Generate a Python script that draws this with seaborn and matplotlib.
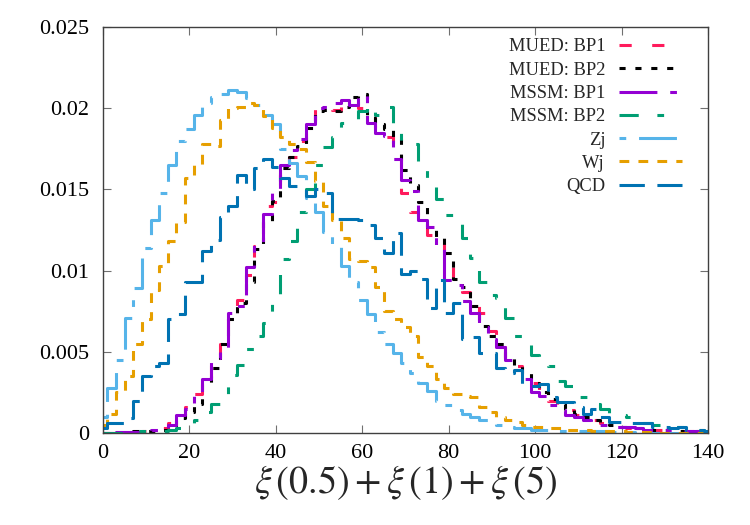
import numpy as np
import pandas as pd
import seaborn as sns
import matplotlib
matplotlib.use("Agg")
import matplotlib.pyplot as plt

# bin positions (histeps, width 2)
xi = list(range(0, 141, 2))

mued_bp1 = [0, 0, 0, 0.00005, 0.00005, 0.0001, 0.0002, 0.0003, 0.0006, 0.0010,
            0.0016, 0.0024, 0.0029, 0.0042, 0.0055, 0.0070, 0.0082, 0.0097, 0.0115, 0.0140,
            0.0142, 0.0160, 0.0170, 0.0180, 0.0187, 0.0200, 0.0200, 0.0199, 0.0202, 0.0204,
            0.0200, 0.0195, 0.0188, 0.0182, 0.0175, 0.0148, 0.0136, 0.0130, 0.0122, 0.0118,
            0.0110, 0.0094, 0.0087, 0.0080, 0.0074, 0.0063, 0.0053, 0.0047, 0.0041, 0.0036,
            0.0031, 0.0022, 0.0020, 0.0015, 0.0014, 0.0011, 0.0008, 0.0008, 0.0006, 0.0005,
            0.0004, 0.0003, 0.0003, 0.0002, 0.0002, 0.0002, 0.0001, 0.0001, 0.0001, 0.0001,
            0.0001]

mued_bp2 = [0, 0, 0, 0.00005, 0.0001, 0.0001, 0.0001, 0.0002, 0.0004, 0.0009,
            0.0013, 0.0018, 0.0030, 0.0040, 0.0055, 0.0070, 0.0080, 0.0093, 0.0113, 0.0130,
            0.0143, 0.0163, 0.0170, 0.0177, 0.0188, 0.0198, 0.0199, 0.0198, 0.0201, 0.0207,
            0.0209, 0.0194, 0.0190, 0.0187, 0.0181, 0.0162, 0.0153, 0.0142, 0.0127, 0.0120,
            0.0111, 0.0095, 0.0090, 0.0078, 0.0066, 0.0060, 0.0055, 0.0046, 0.0041, 0.0037,
            0.0031, 0.0025, 0.0021, 0.0018, 0.0015, 0.0012, 0.0010, 0.0008, 0.0006, 0.0005,
            0.0004, 0.0004, 0.0003, 0.0002, 0.0002, 0.0002, 0.0001, 0.0001, 0.0001, 0.0001,
            0.0001]

mssm_bp1 = [0, 0, 0.00005, 0.00005, 0.00005, 0.0001, 0.0002, 0.0003, 0.0005, 0.0011,
            0.0015, 0.0025, 0.0033, 0.0046, 0.0052, 0.0074, 0.0078, 0.0102, 0.0116, 0.0135,
            0.0150, 0.0165, 0.0174, 0.0181, 0.0190, 0.0200, 0.0201, 0.0203, 0.0205, 0.0202,
            0.0208, 0.0191, 0.0185, 0.0183, 0.0169, 0.0156, 0.0149, 0.0131, 0.0127, 0.0113,
            0.0094, 0.0091, 0.0081, 0.0074, 0.0065, 0.0058, 0.0053, 0.0045, 0.0039, 0.0033,
            0.0025, 0.0023, 0.0017, 0.0014, 0.0011, 0.0010, 0.0008, 0.0006, 0.0005, 0.0005,
            0.0004, 0.0004, 0.0003, 0.0002, 0.0002, 0.0002, 0.0001, 0.0001, 0.0001, 0.0001,
            0]

mssm_bp2 = [0, 0, 0, 0, 0.0001, 0.0001, 0.0001, 0.0001, 0.0002, 0.0003,
            0.0005, 0.0008, 0.0013, 0.0018, 0.0022, 0.0036, 0.0042, 0.0052, 0.0060, 0.0068,
            0.0080, 0.0107, 0.0118, 0.0136, 0.0150, 0.0165, 0.0176, 0.0182, 0.0191, 0.0192,
            0.0198, 0.0202, 0.0196, 0.0201, 0.0188, 0.0179, 0.0178, 0.0167, 0.0153, 0.0144,
            0.0134, 0.0133, 0.0120, 0.0108, 0.0093, 0.0085, 0.0083, 0.0071, 0.0060, 0.0057,
            0.0048, 0.0046, 0.0041, 0.0032, 0.0029, 0.0022, 0.0022, 0.0018, 0.0015, 0.0012,
            0.0011, 0.0010, 0.0008, 0.0006, 0.0005, 0.0005, 0.0004, 0.0004, 0.0003, 0.0002,
            0.0001]

zj = [0.0010, 0.0028, 0.0045, 0.0071, 0.0089, 0.0114, 0.0131, 0.0148, 0.0165, 0.0180,
      0.0187, 0.0196, 0.0203, 0.0207, 0.0209, 0.0211, 0.0210, 0.0206, 0.0202, 0.0196,
      0.0190, 0.0175, 0.0166, 0.0158, 0.0145, 0.0136, 0.0124, 0.0115, 0.0103, 0.0093,
      0.0082, 0.0073, 0.0062, 0.0055, 0.0049, 0.0043, 0.0037, 0.0031, 0.0026, 0.0020,
      0.0017, 0.0014, 0.0012, 0.0010, 0.0008, 0.0007, 0.0005, 0.0004, 0.0003, 0.0003,
      0.0002, 0.0002, 0.0002, 0.0001, 0.0001, 0.0001, 0.0001, 0.0001, 0.0001, 0.00005,
      0.00005, 0.00005, 0, 0, 0, 0, 0, 0, 0, 0,
      0]

wj = [0.0005, 0.0012, 0.0025, 0.0035, 0.0055, 0.0070, 0.0088, 0.0103, 0.0118, 0.0130,
      0.0157, 0.0165, 0.0178, 0.0177, 0.0193, 0.0200, 0.0201, 0.0203, 0.0202, 0.0195,
      0.0188, 0.0182, 0.0178, 0.0175, 0.0167, 0.0155, 0.0140, 0.0131, 0.0120, 0.0107,
      0.0106, 0.0102, 0.0090, 0.0075, 0.0070, 0.0065, 0.0060, 0.0047, 0.0041, 0.0033,
      0.0028, 0.0024, 0.0023, 0.0022, 0.0016, 0.0013, 0.0010, 0.0008, 0.0007, 0.0005,
      0.0004, 0.0004, 0.0003, 0.0003, 0.0002, 0.0002, 0.0002, 0.0001, 0.0001, 0.0001,
      0.0001, 0.00005, 0.00005, 0.00005, 0, 0, 0, 0, 0, 0,
      0]

qcd = [0.0003, 0.0006, 0.0006, 0.0009, 0.0020, 0.0035, 0.0041, 0.0043, 0.0070, 0.0073,
       0.0093, 0.0093, 0.0112, 0.0119, 0.0133, 0.0140, 0.0159, 0.0150, 0.0163, 0.0169,
       0.0164, 0.0157, 0.0152, 0.0152, 0.0146, 0.0150, 0.0148, 0.0132, 0.0132, 0.0132,
       0.0131, 0.0128, 0.0120, 0.0111, 0.0123, 0.0098, 0.0100, 0.0095, 0.0077, 0.0094,
       0.0074, 0.0080, 0.0058, 0.0059, 0.0049, 0.0049, 0.0040, 0.0037, 0.0039, 0.0030,
       0.0029, 0.0030, 0.0022, 0.0019, 0.0019, 0.0016, 0.0012, 0.0015, 0.0010, 0.0007,
       0.0007, 0.0006, 0.0006, 0.0006, 0.0004, 0.0004, 0.0003, 0.0004, 0.0002, 0.0002,
       0.0001]

labels = ['MUED: BP1', 'MUED: BP2', 'MSSM: BP1', 'MSSM: BP2', 'Zj', 'Wj', 'QCD']
series = [mued_bp1, mued_bp2, mssm_bp1, mssm_bp2, zj, wj, qcd]
colors = ['#ff1b5c', '#000000', '#9400d3', '#009e73', '#56b4e9', '#e69f00', '#0072b2']
# dash patterns in linewidth units, gnuplot-like
dashes = [(0, (4, 6.7)),
          (0, (2, 3.2)),
          (0, (12.4, 4.2, 2.2, 4.2)),
          (0, (6.3, 6.1, 2.2, 6.1)),
          (0, (2.2, 4.2, 12.4, 4.2)),
          (0, (3.2, 3.0)),
          (0, (8.3, 4.1))]

df = pd.DataFrame({'x': xi})
for lab, vals in zip(labels, series):
    df[lab] = vals

sns.set_style('ticks')
plt.rcParams['font.family'] = ['Liberation Serif', 'DejaVu Serif']
plt.rcParams['mathtext.fontset'] = 'stix'

fig, ax = plt.subplots(figsize=(7.5, 5.25), dpi=100)
fig.subplots_adjust(left=0.1373, right=0.944, top=0.9486, bottom=0.1752)

for lab, col, ls in zip(labels, colors, dashes):
    sns.lineplot(data=df, x='x', y=lab, ax=ax, color=col, linewidth=2.2,
                 linestyle=ls, drawstyle='steps-mid', label=lab)

ax.set_xlim(0, 140)
ax.set_ylim(0, 0.025)
ax.set_xticks(range(0, 141, 20))
ax.set_yticks([0, 0.005, 0.01, 0.015, 0.02, 0.025])
ax.set_yticklabels(['0', '0.005', '0.01', '0.015', '0.02', '0.025'])
ax.tick_params(direction='in', length=5.5, width=0.8, color='#707070',
               top=True, right=True, labelsize=16, labelcolor='black')
ax.tick_params(axis='y', pad=10)
ax.tick_params(axis='x', pad=8)
for sp in ax.spines.values():
    sp.set_color('#404040')
    sp.set_linewidth(1.0)

ax.set_ylabel('')
ax.set_xlabel(r'$\xi\,(0.5) + \xi\,(1) + \xi\,(5)$', fontsize=27.5, labelpad=0)

# markerfirst=False puts the sample right of a right-aligned label
leg = ax.legend(loc='upper right', bbox_to_anchor=(0.969, 0.99), frameon=False,
                markerfirst=False, fontsize=13.3, handlelength=3.4,
                handletextpad=0.75, labelspacing=0.34, borderaxespad=0)

fig.savefig('out.png', dpi=100)
